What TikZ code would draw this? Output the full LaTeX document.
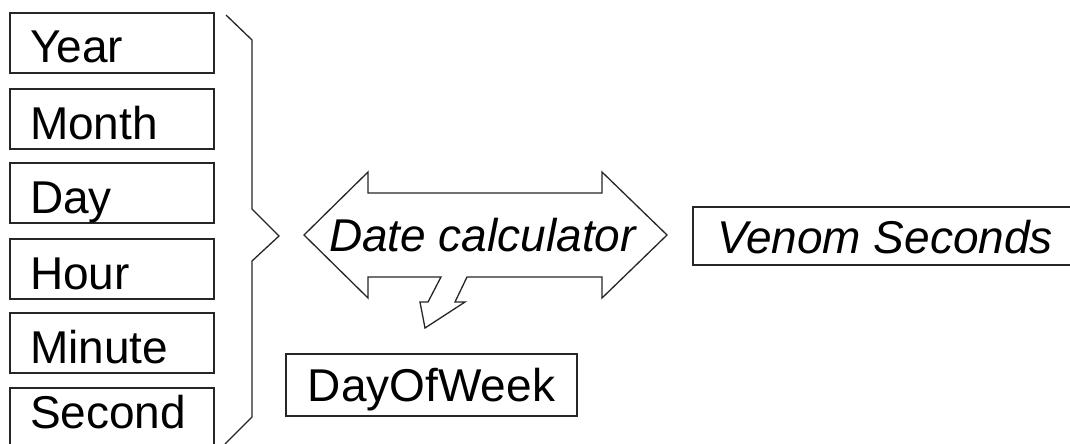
\documentclass[tikz,border=0pt]{standalone}
\usepackage{fontspec}
\setmainfont{Liberation Sans}
\begin{document}
\begin{tikzpicture}[x=1pt,y=-1pt,
  line/.style={line width=1.3pt, draw=black!85},
  field/.style={line, rectangle, minimum width=204pt, minimum height=60pt,
    inner xsep=20pt, inner ysep=0pt, text width=164pt, align=left,
    text height=40pt, text depth=0pt, font=\fontsize{46}{50}\selectfont},
  outbox/.style={line, rectangle, inner sep=0pt,
    text height=34pt, text depth=0pt, font=\fontsize{46}{50}\selectfont}]
\useasboundingbox (0,0) rectangle (1070,444);
\clip (0,0) rectangle (1070,444);
\fill[white] (0,0) rectangle (1070,444);
% input fields
\node[field] (year)   at (112,43)  {Year};
\node[field] (month)  at (112,119) {Month};
\node[field] (day)    at (112,193) {Day};
\node[field] (hour)   at (112,269) {Hour};
\node[field] (minute) at (112,343) {Minute};
\node[field, text height=20pt] (second) at (112,418) {Second};
% brace
\draw[line] (226,15) -- (252,40) -- (252,209) -- (279,236) -- (252,261)
  -- (252,417) -- (225,444);
% double arrow with tail
\draw[line, line join=miter] (304,235) -- (368,172) -- (368,193) -- (602,193)
  -- (602,172) -- (667,235) -- (602,298) -- (602,277) -- (467,277)
  -- (455,302) -- (465,302) -- (425,328) -- (420,302) -- (428,302)
  -- (441,277) -- (368,277) -- (368,298) -- cycle;
\node[inner sep=0pt, text height=32pt, text depth=0pt,
  font=\fontsize{46}{50}\selectfont\itshape] (calc) at (482.5,235) {Date calculator};
% outputs
\node[outbox, minimum width=384pt, minimum height=58pt,
  font=\fontsize{46}{50}\selectfont\itshape] (venom) at (885,236) {Venom Seconds};
\node[outbox, minimum width=291pt, minimum height=62pt, text height=32pt]
  (dow) at (431.5,385) {DayOfWeek};
\end{tikzpicture}
\end{document}
